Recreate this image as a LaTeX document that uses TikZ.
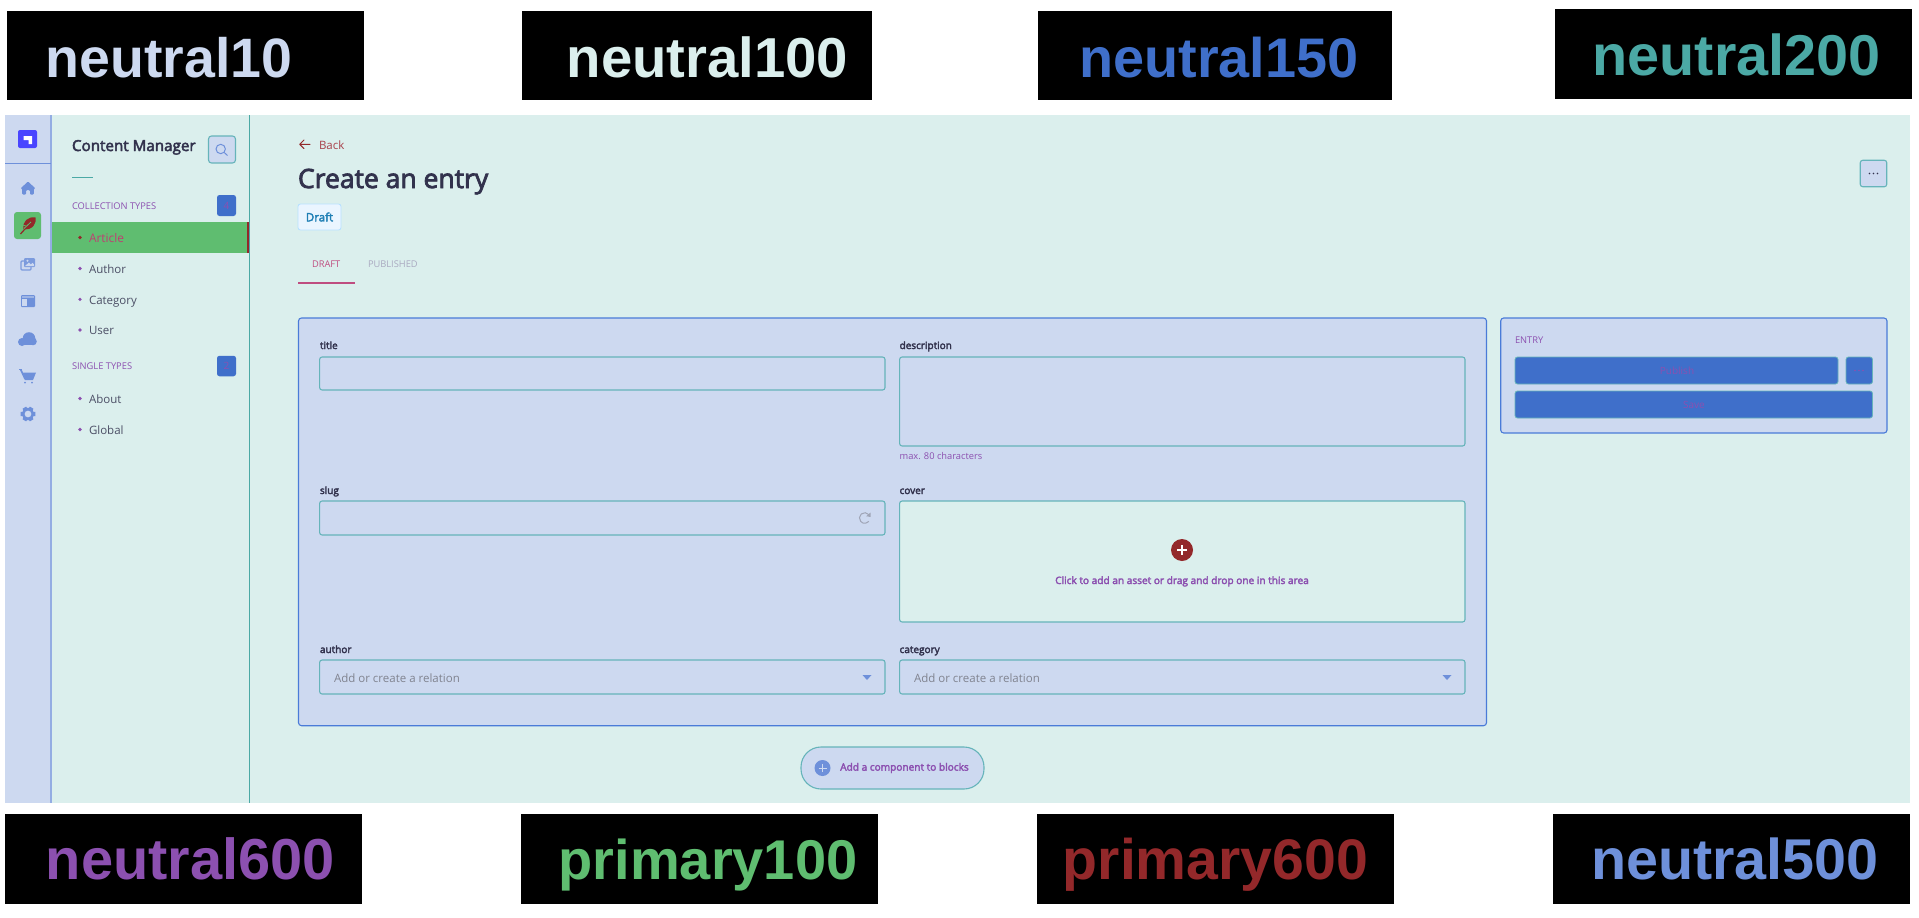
\documentclass[tikz,border=0pt]{standalone}
\usepackage{fontspec}
\setmainfont{Open Sans}
\newfontfamily\uisemi{Open Sans}[FakeBold=3]
\newfontfamily\lblfont{Liberation Sans}[BoldFont={Liberation Sans Bold}]
\usetikzlibrary{calc}
\definecolor{nten}{HTML}{CDD9F0}
\definecolor{nhundred}{HTML}{DBEFED}
\definecolor{nonefifty}{HTML}{3F6FCA}
\definecolor{ntwohundred}{HTML}{4BA9A5}
\definecolor{nsixhundred}{HTML}{8C50B0}
\definecolor{pone}{HTML}{5FBD70}
\definecolor{psix}{HTML}{93282A}
\definecolor{nfive}{HTML}{6E90DA}
\definecolor{inkdark}{HTML}{32324D}
\definecolor{panelblue}{HTML}{4A7BD8}
\definecolor{inputedge}{HTML}{66B4BA}
\definecolor{grayph}{HTML}{80838F}
\definecolor{logob}{HTML}{4945FF}
\definecolor{artcl}{HTML}{BF3F72}
\definecolor{backc}{HTML}{A8404A}
\definecolor{draftf}{HTML}{EAF5FF}
\definecolor{drafte}{HTML}{B8E1FF}
\definecolor{draftt}{HTML}{1F7FB5}
\definecolor{tabc}{HTML}{BF4D80}
\definecolor{tabg}{HTML}{A9A9C0}
\newcommand{\fpx}[1]{\fontsize{#1pt}{#1pt}\selectfont}
\tikzset{
  txt/.style={anchor=base west,inner sep=0pt,outer sep=0pt},
  ctxt/.style={anchor=base,inner sep=0pt,outer sep=0pt},
  blk/.style={fill=black,draw=none},
  swatch/.style={anchor=base,inner sep=0pt},
  ibox/.style={draw=inputedge,line width=1.1pt,rounded corners=2.5pt,fill=nten},
  panel/.style={draw=panelblue,line width=1.1pt,rounded corners=3pt,fill=nten},
  bluebtn/.style={draw=inputedge,line width=0.8pt,rounded corners=2.5pt,fill=nonefifty},
  nav/.style={fill=nfive,draw=none},
  lab/.style={txt,text=inkdark,font=\uisemi\fpx{10}},
  side/.style={txt,text=inkdark!85!nhundred,font=\fpx{11.5}},
  sect/.style={txt,text=nsixhundred,font=\fpx{9.3}},
  dotb/.style={circle,fill=nsixhundred,inner sep=0pt,minimum size=3.6pt,draw=none},
}
\begin{document}
\begin{tikzpicture}[x=1pt,y=-1pt]
\useasboundingbox (0,0) rectangle (1919,918);
\fill[white] (0,0) rectangle (1919,918);
% swatches
\fill[blk] (7,11) rectangle (364,100);
\fill[blk] (522,11) rectangle (872,100);
\fill[blk] (1038,11) rectangle (1392,100);
\fill[blk] (1555,9) rectangle (1912,99);
\fill[blk] (5,814) rectangle (362,904);
\fill[blk] (521,814) rectangle (878,904);
\fill[blk] (1037,814) rectangle (1394,904);
\fill[blk] (1553,814) rectangle (1910,904);
\node[swatch,text=nten,font=\lblfont\bfseries\fpx{55.5}] (s1) at (169,77) {neutral10};
\node[swatch,text=nhundred,font=\lblfont\bfseries\fpx{56.3}] (s2) at (707.5,77) {neutral100};
\node[swatch,text=nonefifty,font=\lblfont\bfseries\fpx{55.8}] (s3) at (1219,77) {neutral150};
\node[swatch,text=ntwohundred,font=\lblfont\bfseries\fpx{57.6}] (s4) at (1736.5,75) {neutral200};
\node[swatch,text=nsixhundred,font=\lblfont\bfseries\fpx{57.8}] (s5) at (190.5,879) {neutral600};
\node[swatch,text=pone,font=\lblfont\bfseries\fpx{56}] (s6) at (708,879) {primary100};
\node[swatch,text=psix,font=\lblfont\bfseries\fpx{57.2}] (s7) at (1215.5,879) {primary600};
\node[swatch,text=nfive,font=\lblfont\bfseries\fpx{57.5}] (s8) at (1735,879) {neutral500};
% screen
\fill[nhundred] (5,115) rectangle (1910,803);
\fill[nten] (5,115) rectangle (51,803);
\draw[nfive!60!nten,line width=1.3pt] (51,115) -- (51,803);
\draw[nfive,line width=1pt] (5,163) -- (51,163);
\draw[ntwohundred,line width=1pt] (249,115) -- (249,803);
% logo
\fill[logob,rounded corners=2pt] (18,130) rectangle (37,148);
\fill[white] (23.5,136) -- (32,136) -- (32,144) -- (28.5,144) -- (28.5,140) -- (23.5,140) -- cycle;
% nav icons
\fill[nav,rounded corners=1pt] (28,181.5) -- (35.5,188.5) -- (33.8,188.5) -- (33.8,194.5) -- (30,194.5) -- (30,190) -- (26,190) -- (26,194.5) -- (22.2,194.5) -- (22.2,188.5) -- (20.5,188.5) -- cycle;
\fill[pone,rounded corners=3pt] (14,212) rectangle (41,239);
\fill[psix] (23.5,229) .. controls (22,222) and (28,216) .. (35.5,217.5) .. controls (37,222) and (33,231) .. (23.5,229) -- cycle;
\draw[psix,line width=1.2pt] (20.5,234) .. controls (23,231) and (26,228) .. (29,225);
\draw[pone,line width=0.8pt] (24,228.5) -- (31,222);
\draw[pone,line width=0.7pt] (22.5,225) -- (26,226);
% media
\draw[nfive!85!nten,line width=1.2pt,rounded corners=1pt] (21,261) rectangle (31,270);
\fill[nfive!85!nten,rounded corners=1pt] (24,258) rectangle (35,267);
\fill[nten] (27.5,260.7) circle (1.1pt);
\fill[nten] (25,266) -- (29,262.5) -- (31,264.5) -- (32.5,262.8) -- (34,264.5) -- (34,266) -- cycle;
% layout
\fill[nav,rounded corners=1pt] (21,295) rectangle (35,307);
\fill[nten] (22.2,299) rectangle (26.8,305.8);
\fill[nfive!50!nten] (22.2,296.2) rectangle (33.8,298);
% cloud
\fill[nav] (22,342) circle (4pt);
\fill[nav] (29,338.5) circle (6.3pt);
\fill[nav] (33,341.5) circle (3.8pt);
\fill[nav] (22,342) rectangle (33,345.3);
% cart
\fill[nav] (20,370) -- (21.8,370) -- (23,372.5) -- (36,372.5) -- (33,380) -- (25,380) -- (24,378.6) -- cycle;
\draw[nfive,line width=1pt] (19,369.5) -- (21.5,369.5);
\fill[nav] (25,382.5) circle (1pt);
\fill[nav] (32,382.5) circle (1pt);
% gear
\draw[nfive,line width=2.6pt] (28,414) circle (4.9pt);
\foreach \a in {0,60,...,300}{\fill[nav] ($(28,414)+(\a-16:7.6)$) -- ($(28,414)+(\a+16:7.6)$) -- ($(28,414)+(\a+26:5)$) -- ($(28,414)+(\a-26:5)$) -- cycle;}
% sidebar
\node[txt,text=inkdark,font=\uisemi\fpx{15.2}] (cm) at (72,151) {Content Manager};
\node[draw=inputedge,line width=1.1pt,fill=nten,rounded corners=3pt,minimum width=27pt,minimum height=27pt,inner sep=0pt] (searchbtn) at (222,149.5) {};
\draw[nfive,line width=1pt] (220.7,149) circle (4.7pt);
\draw[nfive,line width=1pt] (224.2,152.5) -- (227.5,155.5);
\draw[ntwohundred,line width=0.8pt] (72,177) -- (93,177);
\node[sect] (ct) at (72,209) {COLLECTION TYPES};
\node[fill=nonefifty,rounded corners=2.5pt,minimum width=19pt,minimum height=21pt,inner sep=0pt,text=nsixhundred,font=\fpx{10}] (b4) at (226.5,205.5) {4};
\fill[pone] (51.6,222) rectangle (249,253);
\fill[psix] (247,222) rectangle (249,253);
\node[dotb,fill=psix] (d1) at (80,237.5) {};
\node[txt,text=artcl,font=\fpx{11.9}] (t1) at (89,242) {Article};
\node[dotb] (d2) at (80,268.5) {};
\node[side] (t2) at (89,273) {Author};
\node[dotb] (d3) at (80,299.3) {};
\node[side] (t3) at (89,304) {Category};
\node[dotb] (d4) at (80,330) {};
\node[side] (t4) at (89,334.5) {User};
\node[sect] (st) at (72,369.5) {SINGLE TYPES};
\node[fill=nonefifty,rounded corners=2.5pt,minimum width=19pt,minimum height=20.5pt,inner sep=0pt,text=nsixhundred,font=\fpx{10}] (b2) at (226.5,366) {2};
\node[dotb] (d5) at (80,398.5) {};
\node[side] (t5) at (89,403.5) {About};
\node[dotb] (d6) at (80,429.5) {};
\node[side] (t6) at (89,434) {Global};
% header
\draw[psix,line width=1pt,line cap=round,line join=round] (310,144.3) -- (300,144.3) (304,140) -- (299.7,144.3) -- (304,148.6);
\node[txt,text=backc,font=\fpx{11.5}] (back) at (319,149) {Back};
\node[txt,text=inkdark,font=\uisemi\fpx{26.5}] (hd) at (298,188) {Create an entry};
\node[fill=draftf,draw=drafte,line width=0.9pt,rounded corners=2.5pt,minimum width=43pt,minimum height=26pt,inner sep=0pt,text=draftt,font=\uisemi\fpx{11.5}] (dr) at (319.5,217) {Draft};
\node[txt,text=tabc,font=\fpx{9.3}] (tb1) at (312,267) {DRAFT};
\node[txt,text=tabg,font=\fpx{9.3}] (tb2) at (368,267) {PUBLISHED};
\draw[tabc,line width=1.8pt] (298,283) -- (354.5,283);
% more
\node[draw=inputedge,line width=1.1pt,fill=nten,rounded corners=2.5pt,minimum width=26.5pt,minimum height=26.5pt,inner sep=0pt] (more) at (1873.5,173.5) {};
\foreach \i in {-4,0,4}{\fill[inkdark] ($(more.center)+(\i,0)$) circle (0.8pt);}
% form panel
\draw[panel] (298.5,318) rectangle (1486.5,725.7);
\node[lab] (ltitle) at (320,349) {title};
\draw[ibox] (319.6,357) rectangle (885,390);
\node[lab] (ldesc) at (899.6,349) {description};
\draw[ibox] (899.6,357) rectangle (1465,446);
\node[txt,text=nsixhundred,font=\fpx{9.3}] (maxc) at (899.6,459) {max. 80 characters};
\node[lab] (lslug) at (320,494) {slug};
\draw[ibox] (319.6,501) rectangle (885,535);
\draw[grayph!60!nten,line width=1pt] (868.8,514.6) arc (40:320:5.3pt);
\fill[grayph!60!nten] (870.6,512.5) -- (870.6,517) -- (866.2,516.2) -- cycle;
\node[lab] (lcover) at (899.6,494) {cover};
\draw[ibox,fill=nhundred] (899.6,501) rectangle (1465,622);
\node[circle,fill=psix,minimum size=22pt,inner sep=0pt] (plus) at (1182,550) {};
\draw[white,line width=1.4pt] (1177,550) -- (1187,550) (1182,545) -- (1182,555);
\node[ctxt,text=nsixhundred,font=\uisemi\fpx{10.1}] (click) at (1182,584) {Click to add an asset or drag and drop one in this area};
\node[lab] (lauth) at (320,653) {author};
\draw[ibox] (319.6,660) rectangle (885,694);
\node[txt,text=grayph,font=\fpx{11.5}] (rel1) at (334,682) {Add or create a relation};
\fill[nfive] (862.5,675) -- (871.5,675) -- (867,680) -- cycle;
\node[lab] (lcat) at (899.6,653) {category};
\draw[ibox] (899.6,660) rectangle (1465,694);
\node[txt,text=grayph,font=\fpx{11.5}] (rel2) at (914,682) {Add or create a relation};
\fill[nfive] (1442.5,675) -- (1451.5,675) -- (1447,680) -- cycle;
% entry panel
\draw[panel] (1500.7,318) rectangle (1887,433);
\node[sect] (ent) at (1515,343) {ENTRY};
\draw[bluebtn] (1515,357) rectangle (1838,384);
\node[anchor=center,inner sep=0pt,text=nsixhundred,font=\fpx{10}] (pub) at (1677,370.5) {Publish};
\draw[bluebtn] (1846,357) rectangle (1872.5,384);
\foreach \i in {-4,0,4}{\fill[nsixhundred] ($(1859,370.5)+(\i,0)$) circle (0.8pt);}
\draw[bluebtn] (1515,391) rectangle (1872.5,418);
\node[anchor=center,inner sep=0pt,text=nsixhundred,font=\fpx{10}] (sv) at (1694,404.5) {Save};
% add component
\node[draw=inputedge,line width=1.1pt,fill=nten,rounded corners=20pt,minimum width=183pt,minimum height=42pt,inner sep=0pt] (addc) at (892.5,768) {};
\node[circle,fill=nfive,minimum size=16pt,inner sep=0pt] (addp) at (822.5,768) {};
\draw[nten,line width=1pt] (818.5,768) -- (826.5,768) (822.5,764) -- (822.5,772);
\node[anchor=west,inner sep=0pt,text=nsixhundred,font=\uisemi\fpx{10.1}] (addt) at (840,768) {Add a component to blocks};
\end{tikzpicture}
\end{document}
